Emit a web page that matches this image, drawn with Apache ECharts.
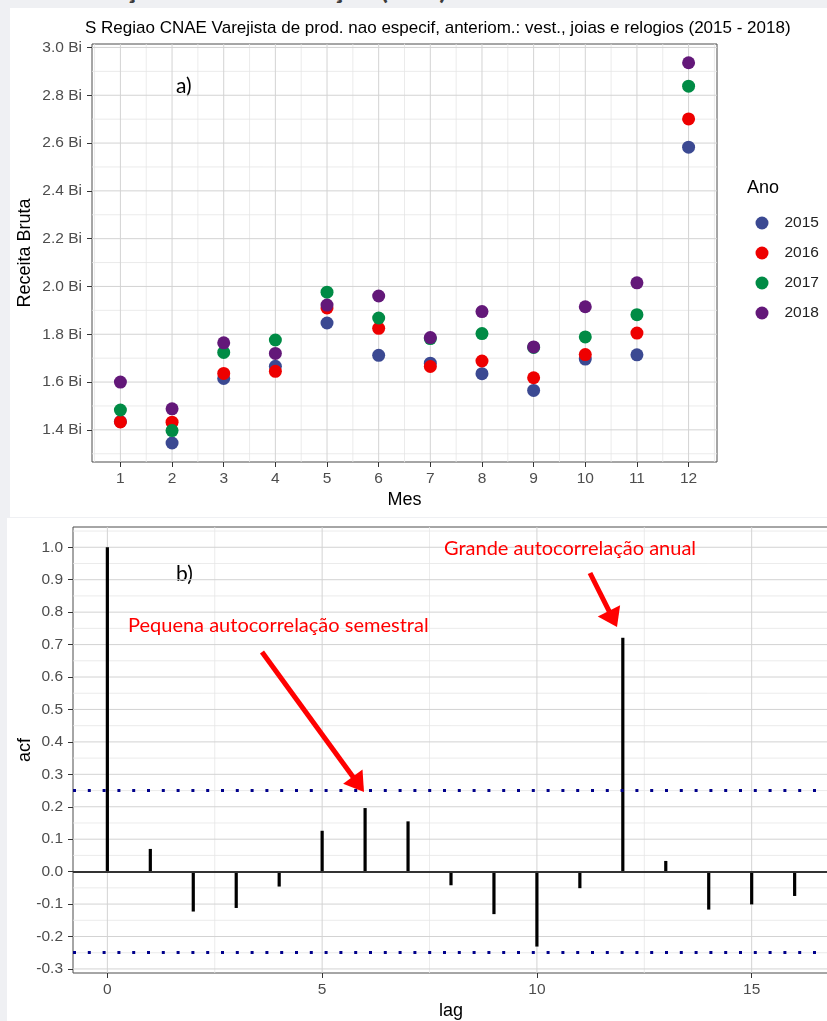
<!DOCTYPE html>
<html><head><meta charset="utf-8">
<script src="https://cdn.jsdelivr.net/npm/echarts@6/dist/echarts.min.js"></script>
<style>
html,body{margin:0;padding:0;width:827px;height:1021px;overflow:hidden;background:#eff0f3;}
#hdr{position:absolute;left:0;top:-27px;font:bold 27px Lato;line-height:1.2;color:#3a3a3a;white-space:nowrap;}
#a{position:absolute;left:10px;top:8px;width:817px;height:509px;background:#fff;}
#b{position:absolute;left:7px;top:518px;width:840px;height:503px;background:#fff;}
</style></head><body>
<div id="hdr">Sazonalização e autocorrelação (ACF)</div>
<div id="a"></div><div id="b"></div>
<script>
// ---------- data: panel a) ----------
const months = [1,2,3,4,5,6,7,8,9,10,11,12];
const years = ['2015','2016','2017','2018'];
const receita2015 = [1.435,1.345,1.615,1.666,1.847,1.712,1.679,1.635,1.565,1.696,1.714,2.583];
const receita2016 = [1.433,1.432,1.636,1.645,1.910,1.825,1.665,1.688,1.618,1.715,1.805,2.701];
const receita2017 = [1.483,1.397,1.724,1.776,1.976,1.868,1.782,1.803,1.745,1.789,1.882,2.838];
const receita2018 = [1.600,1.488,1.764,1.720,1.922,1.960,1.786,1.895,1.747,1.915,2.015,2.936];
const mesTicks = [1,2,3,4,5,6,7,8,9,10,11,12];
const mesMinor = [0.5,1.5,2.5,3.5,4.5,5.5,6.5,7.5,8.5,9.5,10.5,11.5,12.5];
const receitaTicks = [1.4,1.6,1.8,2.0,2.2,2.4,2.6,2.8,3.0];
const receitaMinor = [1.3,1.5,1.7,1.9,2.1,2.3,2.5,2.7,2.9];

// ---------- data: panel b) ----------
const lags = [0,1,2,3,4,5,6,7,8,9,10,11,12,13,14,15,16];
const acfValues = [1.0,0.07,-0.123,-0.112,-0.046,0.126,0.196,0.155,-0.042,-0.131,-0.231,-0.051,0.721,0.033,-0.117,-0.101,-0.075];
const confLimit = 0.25;
const lagTicks = [0,5,10,15];
const lagMinor = [2.5,7.5,12.5];
const acfTicks = [-0.3,-0.2,-0.1,0.0,0.1,0.2,0.3,0.4,0.5,0.6,0.7,0.8,0.9,1.0];
const acfMinor = [-0.25,-0.15,-0.05,0.05,0.15,0.25,0.35,0.45,0.55,0.65,0.75,0.85,0.95,1.05];

const yearColors = ['#3B4992','#EE0000','#008B45','#631879'];
const FONT = "'Liberation Sans', Arial, sans-serif";
const ANNOT = "Lato, 'Open Sans', sans-serif";

function gridSeries(xMaj, xMin, yMaj, yMin, xRef, yRef) {
  const data = [];
  xMin.forEach(v => data.push([v, 0, 0]));
  yMin.forEach(v => data.push([v, 1, 0]));
  xMaj.forEach(v => data.push([v, 0, 1]));
  yMaj.forEach(v => data.push([v, 1, 1]));
  return {
    type: 'custom', silent: true, z: 1, data: data,
    encode: {x: 0, y: 1},
    renderItem: function (params, api) {
      const v = api.value(0), o = api.value(1), maj = api.value(2);
      const cs = params.coordSys;
      const style = {stroke: maj ? '#d3d3d3' : '#e6e6e6', lineWidth: maj ? 1 : 0.8};
      if (o === 0) {
        const p = api.coord([v, yRef])[0];
        return {type: 'line', shape: {x1: p, y1: cs.y, x2: p, y2: cs.y + cs.height}, style: style};
      } else {
        const p = api.coord([xRef, v])[1];
        return {type: 'line', shape: {x1: cs.x, y1: p, x2: cs.x + cs.width, y2: p}, style: style};
      }
    }
  };
}

// ---------- chart a ----------
const chartA = echarts.init(document.getElementById('a'));
const receitas = [receita2015, receita2016, receita2017, receita2018];
const scatterSeries = years.map((y, k) => ({
  name: y, type: 'scatter', z: 3, symbol: 'circle', symbolSize: 13,
  itemStyle: {color: yearColors[k], opacity: 1},
  data: months.map((m, i) => [m, receitas[k][i]])
}));
chartA.setOption({
  animation: false,
  title: {
    text: 'S Regiao CNAE Varejista de prod. nao especif, anteriom.: vest., joias e relogios (2015 - 2018)',
    left: 70, top: 7,
    textStyle: {fontFamily: FONT, fontSize: 17, fontWeight: 'normal', color: '#000'}
  },
  legend: {
    orient: 'vertical', left: 740.5, top: 202, itemWidth: 13, itemHeight: 13, itemGap: 14,
    icon: 'circle', data: years,
    textStyle: {fontFamily: FONT, fontSize: 15.5, color: '#222', padding: [0, 0, 0, 11]}
  },
  grid: {left: 82, top: 36, right: 110, bottom: 55, outerBoundsMode: 'none', containLabel: false,
    show: true, backgroundColor: '#fff', borderColor: '#4d4d4d', borderWidth: 1},
  xAxis: {
    type: 'value', min: 0.45, max: 12.55,
    name: 'Mes', nameLocation: 'middle', nameGap: 29, nameMoveOverlap: false,
    nameTextStyle: {fontFamily: FONT, fontSize: 18, color: '#000'},
    axisLine: {show: false, onZero: false}, splitLine: {show: false},
    axisTick: {show: true, customValues: mesTicks, length: 5, lineStyle: {color: '#333'}},
    axisLabel: {customValues: mesTicks, margin: 9, fontFamily: FONT, fontSize: 15.5, color: '#4d4d4d'}
  },
  yAxis: {
    type: 'value', min: 1.2655, max: 3.0145,
    name: 'Receita Bruta', nameLocation: 'middle', nameGap: 58, nameMoveOverlap: false,
    nameTextStyle: {fontFamily: FONT, fontSize: 18, color: '#000'},
    axisLine: {show: false, onZero: false}, splitLine: {show: false},
    axisTick: {show: true, customValues: receitaTicks, length: 5, lineStyle: {color: '#333'}},
    axisLabel: {customValues: receitaTicks, margin: 10, fontFamily: FONT, fontSize: 15.5, color: '#4d4d4d',
      formatter: v => v.toFixed(1) + ' Bi'}
  },
  graphic: [
    {type: 'text', left: 737, top: 171, style: {text: 'Ano', fontFamily: FONT, fontSize: 18, fill: '#000'}},
    {type: 'text', x: 166, y: 78, style: {text: 'a)', fontFamily: ANNOT, fontSize: 21, fill: '#000', verticalAlign: 'middle'}}
  ],
  series: [gridSeries(mesTicks, mesMinor, receitaTicks, receitaMinor, 6, 2)].concat(scatterSeries)
});

// ---------- chart b ----------
const chartB = echarts.init(document.getElementById('b'));
function arrow(x1, y1, x2, y2, len, hw) {
  const dx = x2 - x1, dy = y2 - y1, d = Math.sqrt(dx * dx + dy * dy);
  const ux = dx / d, uy = dy / d;
  const bx = x2 - ux * len, by = y2 - uy * len;
  return [
    {type: 'line', z: 100, shape: {x1: x1, y1: y1, x2: bx + ux * 2, y2: by + uy * 2}, style: {stroke: '#ff0000', lineWidth: 5}},
    {type: 'polygon', z: 100, shape: {points: [[x2, y2], [bx - uy * hw, by + ux * hw], [bx + uy * hw, by - ux * hw]]}, style: {fill: '#ff0000'}}
  ];
}
chartB.setOption({
  animation: false,
  grid: {left: 66, top: 9, width: 756, bottom: 48, outerBoundsMode: 'none', containLabel: false,
    show: true, backgroundColor: '#fff', borderColor: '#4d4d4d', borderWidth: 1},
  xAxis: {
    type: 'value', min: -0.8, max: 16.8,
    name: 'lag', nameLocation: 'middle', nameGap: 29, nameMoveOverlap: false,
    nameTextStyle: {fontFamily: FONT, fontSize: 18, color: '#000'},
    axisLine: {show: false, onZero: false}, splitLine: {show: false},
    axisTick: {show: true, customValues: lagTicks, length: 5, lineStyle: {color: '#333'}},
    axisLabel: {customValues: lagTicks, margin: 9, fontFamily: FONT, fontSize: 15.5, color: '#4d4d4d'}
  },
  yAxis: {
    type: 'value', min: -0.3125, max: 1.0625,
    name: 'acf', nameLocation: 'middle', nameGap: 39, nameMoveOverlap: false,
    nameTextStyle: {fontFamily: FONT, fontSize: 18, color: '#000'},
    axisLine: {show: false, onZero: false}, splitLine: {show: false},
    axisTick: {show: true, customValues: acfTicks, length: 5, lineStyle: {color: '#333'}},
    axisLabel: {customValues: acfTicks, margin: 10, fontFamily: FONT, fontSize: 15.5, color: '#4d4d4d',
      formatter: v => v.toFixed(1)}
  },
  graphic: [
    {type: 'text', x: 169, y: 56, style: {text: 'b)', fontFamily: ANNOT, fontSize: 21, fill: '#000', verticalAlign: 'middle'}},
    {type: 'text', x: 121, y: 108, z: 100, style: {text: 'Pequena autocorrelação semestral', fontFamily: ANNOT, fontSize: 20, fill: '#ff0000', verticalAlign: 'middle'}},
    {type: 'text', x: 437, y: 31, z: 100, style: {text: 'Grande autocorrelação anual', fontFamily: ANNOT, fontSize: 20, fill: '#ff0000', verticalAlign: 'middle'}}
  ].concat(arrow(255, 134, 357, 274, 19, 12)).concat(arrow(583, 55, 610, 109, 18, 12.5)),
  series: [
    gridSeries(lagTicks, lagMinor, acfTicks, acfMinor, 5, 0.5),
    {
      type: 'custom', z: 3, data: lags.map((l, i) => [l, acfValues[i]]),
      encode: {x: 0, y: 1},
      renderItem: function (params, api) {
        const p0 = api.coord([api.value(0), 0]);
        const p1 = api.coord([api.value(0), api.value(1)]);
        return {type: 'line', shape: {x1: p0[0], y1: p0[1], x2: p1[0], y2: p1[1]}, style: {stroke: '#000', lineWidth: 3.2}};
      },
      markLine: {
        silent: true, symbol: 'none', label: {show: false}, animation: false,
        data: [
          {yAxis: 0, lineStyle: {color: '#333', width: 2, type: 'solid'}},
          {yAxis: confLimit, lineStyle: {color: '#00008B', width: 3, type: [3, 11.8]}},
          {yAxis: -confLimit, lineStyle: {color: '#00008B', width: 3, type: [3, 11.8]}}
        ]
      }
    }
  ]
});
</script>
</body></html>
